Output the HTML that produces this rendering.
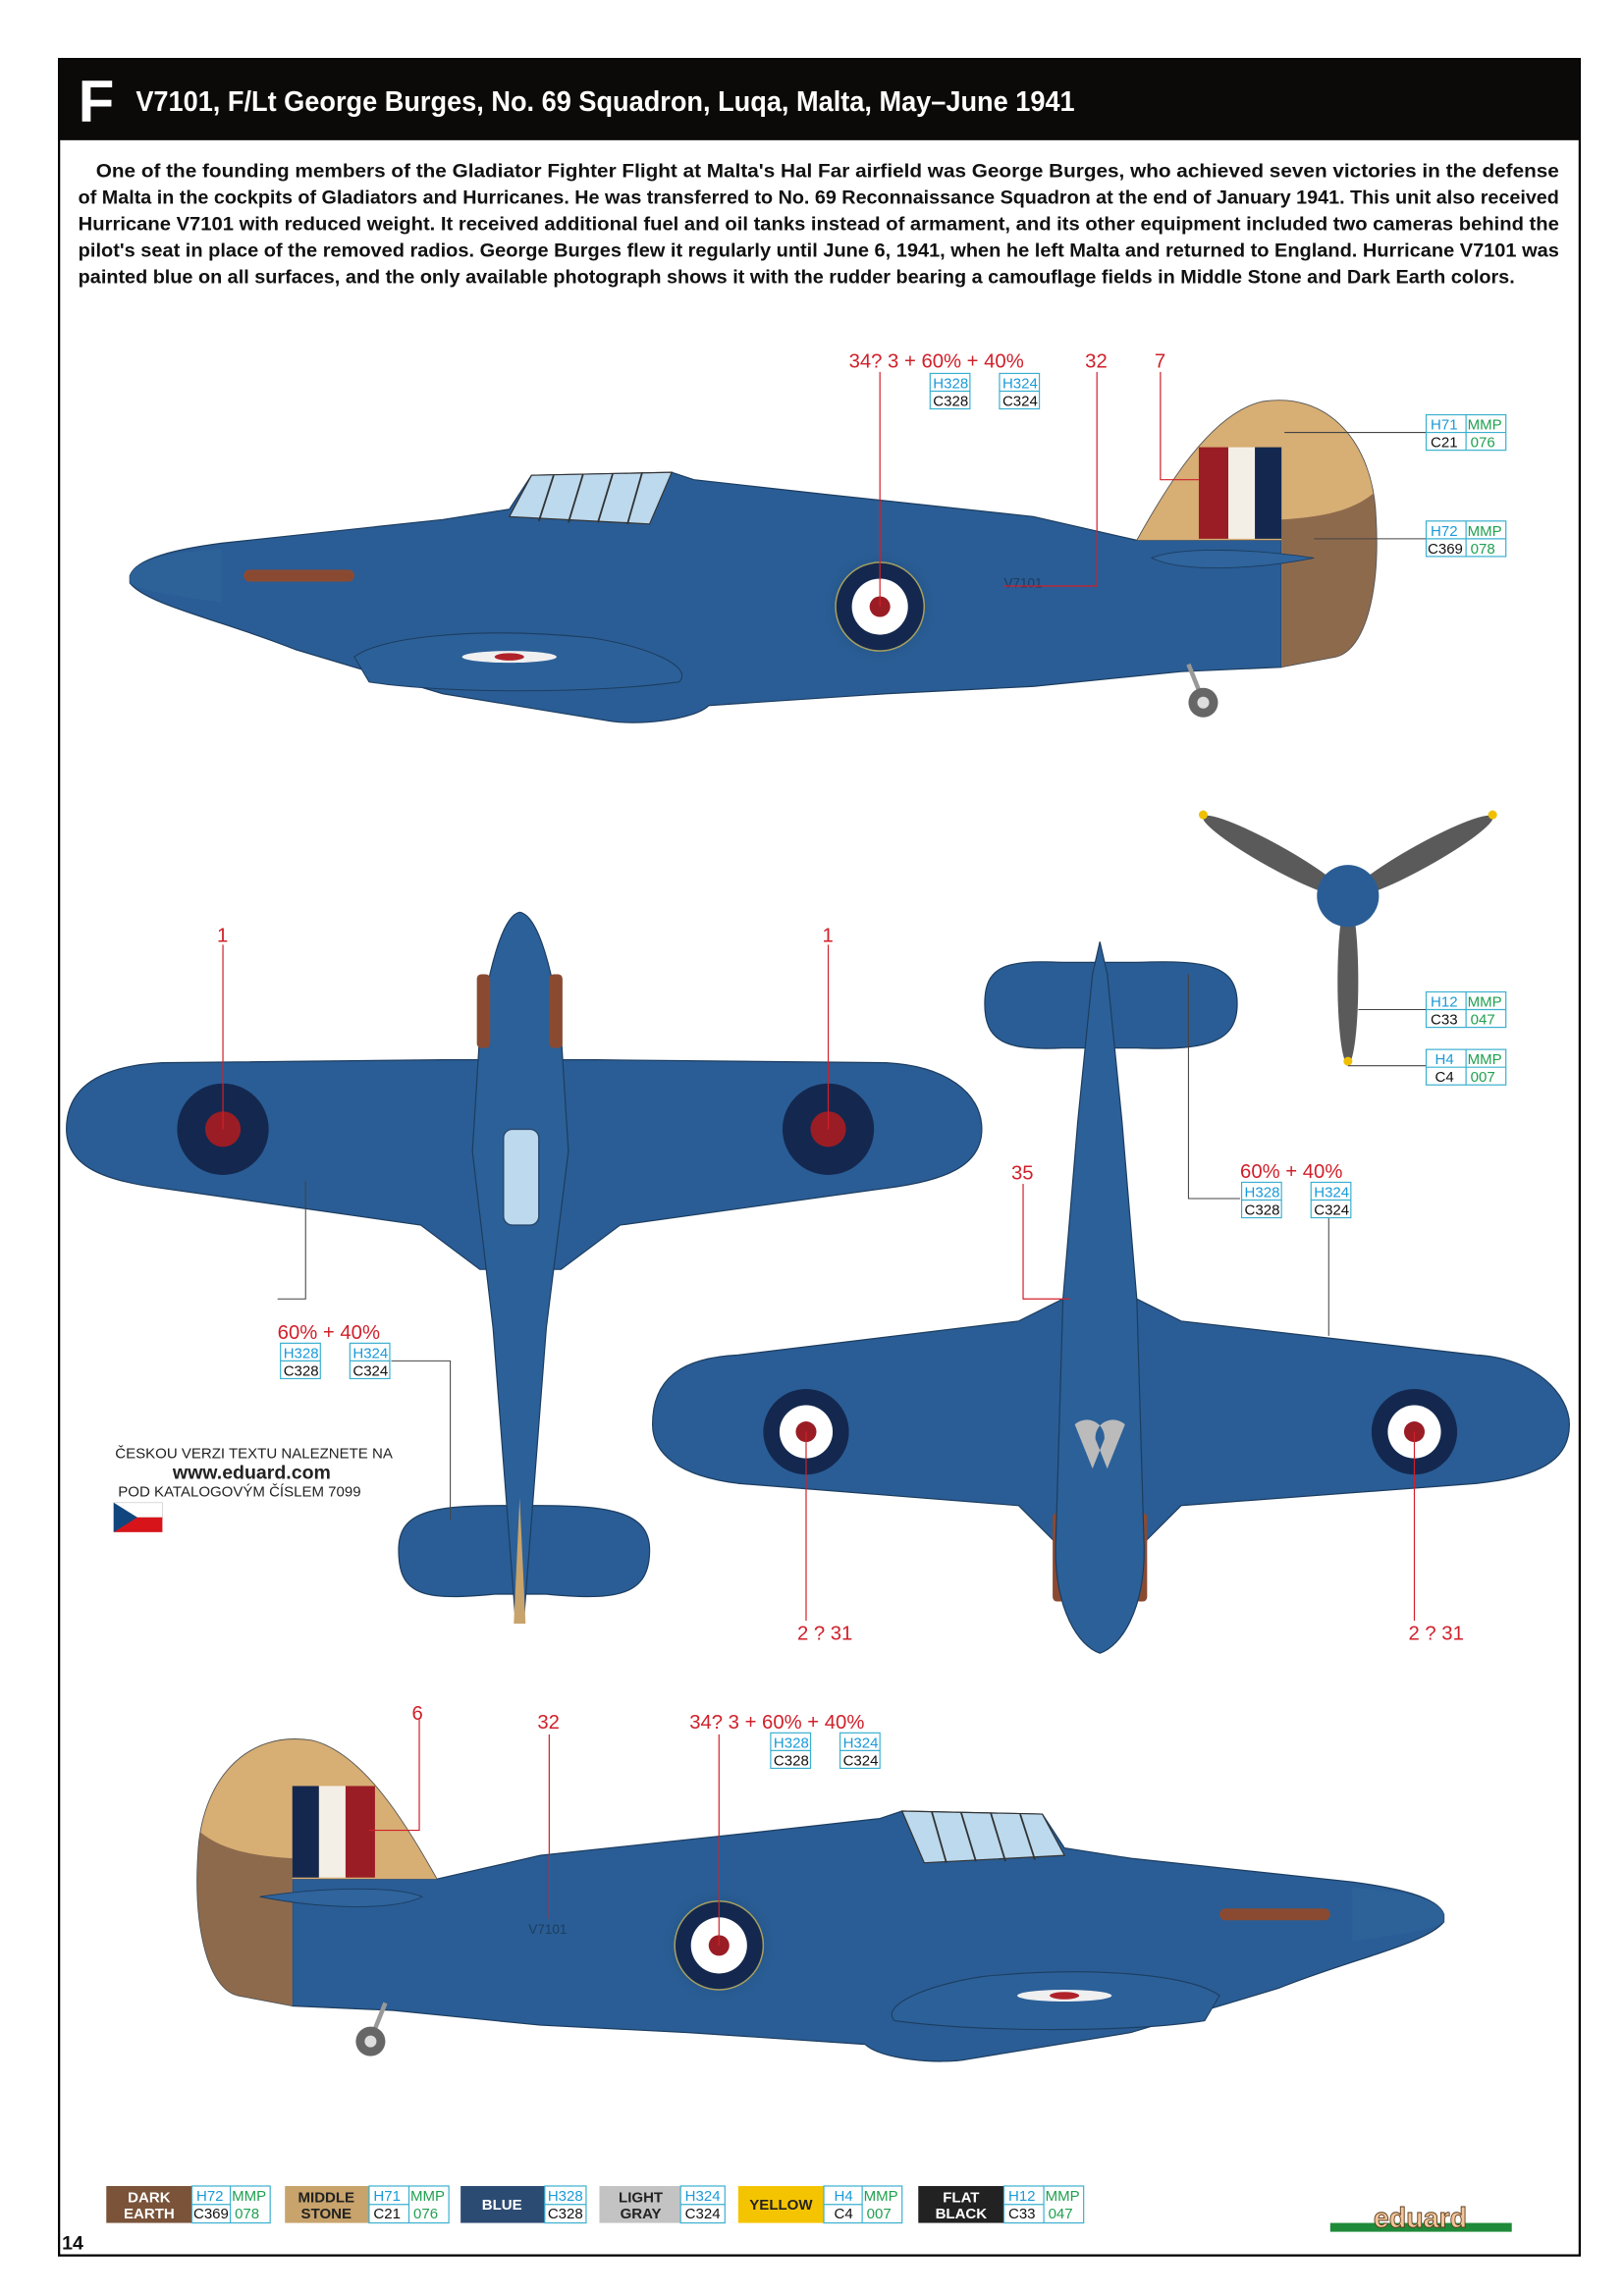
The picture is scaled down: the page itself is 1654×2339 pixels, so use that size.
<!DOCTYPE html>
<html><head><meta charset="utf-8"><style>html,body{margin:0;padding:0;background:#fff}svg{display:block}</style></head><body>
<svg width="1654" height="2339" viewBox="0 0 1100 1555.5" preserveAspectRatio="none" xmlns="http://www.w3.org/2000/svg" font-family="Liberation Sans, sans-serif">
<defs>
<radialGradient id="glow"><stop offset="0.6" stop-color="#1f4f80" stop-opacity="0.9"/><stop offset="1" stop-color="#2a5d95" stop-opacity="0"/></radialGradient>
<clipPath id="finclip"><path d="M770,366 C790,330 820,280 855,272 C900,265 930,300 932,350 C935,400 925,440 905,445 L868,452 L868,366 Z"/></clipPath>
<g id="side">
 <path d="M88,390 C92,378 120,372 150,368 L300,352 L345,345 L360,322 L455,320 L470,325 L560,335 L700,350 L770,366 L868,366 L868,452 L800,455 L700,465 L600,470 L480,478 C470,488 430,492 410,488 L300,470 L200,440 C150,420 100,410 88,395 Z" fill="#2a5d95" stroke="#1c3d60" stroke-width="0.8"/>
 <path d="M88,390 C92,378 120,374 150,372 L150,408 C120,404 95,400 88,395 Z" fill="#2d6299"/>
 <g clip-path="url(#finclip)">
  <rect x="760" y="260" width="180" height="200" fill="#d7ae74"/>
  <path d="M868,352 C900,350 920,345 935,330 L940,460 L868,460 Z" fill="#8e6a4d"/>
  <rect x="760" y="366" width="108" height="100" fill="#2a5d95"/>
 </g>
 <path d="M770,366 C790,330 820,280 855,272 C900,265 930,300 932,350 C935,400 925,440 905,445 L868,452" fill="none" stroke="#555" stroke-width="0.6"/>
 <rect x="812" y="303" width="20" height="62" fill="#9a1d25"/><rect x="832" y="303" width="18" height="62" fill="#f3efe6"/><rect x="850" y="303" width="18" height="62" fill="#14284f"/>
 <path d="M780,378 C800,370 850,372 890,378 C850,386 800,388 780,378 Z" fill="#2f649c" stroke="#1c3d60" stroke-width="0.6"/>
 <path d="M345,350 L360,322 L455,320 L440,355 Z" fill="#bcd9ee" stroke="#333" stroke-width="0.8"/>
 <path d="M375,322 L365,353 M395,321 L385,354 M415,321 L405,354 M435,320 L425,355" stroke="#333" stroke-width="1.2"/>
 <rect x="165" y="386" width="75" height="8" rx="4" fill="#8a4a32"/>
 <path d="M240,445 C260,430 330,425 400,432 C440,438 470,452 460,462 C400,470 300,470 250,462 Z" fill="#2c6098" stroke="#1c3d60" stroke-width="0.7"/>
 <ellipse cx="345" cy="445" rx="32" ry="4" fill="#f0f0f0"/><ellipse cx="345" cy="445" rx="10" ry="2.5" fill="#b0222a"/>
 <path d="M805,450 L815,475" stroke="#999" stroke-width="3"/><circle cx="815" cy="476" r="10" fill="#666"/><circle cx="815" cy="476" r="4" fill="#ddd"/>
</g>
<g id="roundel">
 <circle r="40" fill="url(#glow)"/>
 <circle r="30" fill="#14284f" stroke="#a6a060" stroke-width="1"/><circle r="19" fill="#fff"/><circle r="7" fill="#9a1d25"/>
</g>
</defs>

<rect x="40" y="40" width="1030" height="1488" fill="none" stroke="#000" stroke-width="1.5"/>
<rect x="40" y="40" width="1030" height="55" fill="#0c0a08"/>
<text x="53" y="82" font-size="40" font-weight="bold" fill="#fff">F</text>
<text x="92" y="75" font-size="19" font-weight="bold" fill="#fff" textLength="636" lengthAdjust="spacingAndGlyphs">V7101, F/Lt George Burges, No. 69 Squadron, Luqa, Malta, May–June 1941</text>
<g font-size="13" font-weight="bold" fill="#111">
<text x="65" y="120" textLength="991" lengthAdjust="spacingAndGlyphs">One of the founding members of the Gladiator Fighter Flight at Malta's Hal Far airfield was George Burges, who achieved seven victories in the defense</text>
<text x="53" y="138" textLength="1003" lengthAdjust="spacingAndGlyphs">of Malta in the cockpits of Gladiators and Hurricanes. He was transferred to No. 69 Reconnaissance Squadron at the end of January 1941. This unit also received</text>
<text x="53" y="156" textLength="1003" lengthAdjust="spacingAndGlyphs">Hurricane V7101 with reduced weight. It received additional fuel and oil tanks instead of armament, and its other equipment included two cameras behind the</text>
<text x="53" y="174" textLength="1003" lengthAdjust="spacingAndGlyphs">pilot's seat in place of the removed radios. George Burges flew it regularly until June 6, 1941, when he left Malta and returned to England. Hurricane V7101 was</text>
<text x="53" y="192" textLength="973" lengthAdjust="spacingAndGlyphs">painted blue on all surfaces, and the only available photograph shows it with the rudder bearing a camouflage fields in Middle Stone and Dark Earth colors.</text>
</g>

<use href="#side"/>
<use href="#roundel" transform="translate(596,411)"/>
<text x="680" y="398" font-size="9" fill="#1c3d60">V7101</text>
<use href="#side" transform="translate(1066,907) scale(-1,1)"/>
<use href="#roundel" transform="translate(487,1318)"/>
<text x="358" y="1310" font-size="9" fill="#1c3d60">V7101</text>

<!-- plan top view -->
<path d="M45,765 C45,735 70,722 110,720 L300,718 L404,718 L600,720 C640,722 665,740 665,765 C665,790 640,800 600,805 L420,830 L380,860 L325,860 L285,830 L110,805 C70,800 45,790 45,765 Z" fill="#2a5d95" stroke="#1c3d60" stroke-width="0.8"/>
<path d="M270,1050 C270,1025 290,1020 340,1020 L365,1020 C415,1020 440,1025 440,1050 C440,1080 420,1085 370,1080 L335,1080 C285,1085 270,1080 270,1050 Z" fill="#2a5d95" stroke="#1c3d60" stroke-width="0.8"/>
<path d="M352,618 C365,620 375,660 380,700 L385,780 L370,900 L360,1030 L355,1095 L349,1095 L344,1030 L334,900 L320,780 L325,700 C330,660 340,620 352,618 Z" fill="#2c6098" stroke="#1c3d60" stroke-width="0.8"/>
<path d="M352,1015 L356,1100 L348,1100 Z" fill="#c8a36b"/>
<g fill="#8a4a32"><rect x="323" y="660" width="9" height="50" rx="3"/><rect x="372" y="660" width="9" height="50" rx="3"/></g>
<rect x="341" y="765" width="24" height="65" rx="6" fill="#bcd9ee" stroke="#2a4a70" stroke-width="1"/>
<circle cx="151" cy="765" r="31" fill="#14284f"/><circle cx="151" cy="765" r="12" fill="#9a1d25"/>
<circle cx="561" cy="765" r="31" fill="#14284f"/><circle cx="561" cy="765" r="12" fill="#9a1d25"/>

<!-- bottom view -->
<path d="M667,680 C667,655 680,650 720,652 L770,652 C820,650 838,655 838,680 C838,705 820,712 770,710 L720,710 C680,712 667,705 667,680 Z" fill="#2a5d95" stroke="#1c3d60" stroke-width="0.8"/>
<path d="M442,965 C442,935 460,920 500,918 L690,895 L720,880 L770,880 L800,895 L1000,918 C1040,920 1063,945 1063,965 C1063,985 1050,1000 1000,1005 L800,1020 L770,1050 L720,1050 L690,1020 L500,1005 C460,1000 442,985 442,965 Z" fill="#2a5d95" stroke="#1c3d60" stroke-width="0.8"/>
<g fill="#8a4a32"><rect x="713" y="1025" width="8" height="60" rx="3"/><rect x="769" y="1025" width="8" height="60" rx="3"/></g>
<path d="M745,638 L750,660 L760,760 L770,880 L775,1050 C775,1090 760,1115 745,1120 C730,1115 715,1090 715,1050 L720,880 L730,760 L740,660 Z" fill="#2c6098" stroke="#1c3d60" stroke-width="0.8"/>
<path d="M728,965 a12,12 0 0 1 20,10 L740,995 Z M762,965 a12,12 0 0 0 -20,10 L750,995 Z" fill="#bbb"/>
<circle cx="546" cy="970" r="29" fill="#14284f"/><circle cx="546" cy="970" r="18" fill="#fff"/><circle cx="546" cy="970" r="7" fill="#9a1d25"/>
<circle cx="958" cy="970" r="29" fill="#14284f"/><circle cx="958" cy="970" r="18" fill="#fff"/><circle cx="958" cy="970" r="7" fill="#9a1d25"/>

<!-- propeller -->
<ellipse cx="863" cy="580" rx="55" ry="8" transform="rotate(29 863 580)" fill="#5a5a5a"/>
<ellipse cx="963" cy="580" rx="55" ry="8" transform="rotate(-29 963 580)" fill="#5a5a5a"/>
<ellipse cx="913" cy="665" rx="7" ry="56" fill="#5a5a5a"/>
<circle cx="815" cy="552" r="3" fill="#f0c000"/><circle cx="1011" cy="552" r="3" fill="#f0c000"/><circle cx="913" cy="719" r="3" fill="#f0c000"/>
<circle cx="913" cy="607" r="21" fill="#2a5d95"/>

<g stroke="#d0202a" stroke-width="0.8" fill="none">
<path d="M596,252 V411"/><path d="M743,252 V397 H680"/><path d="M786,252 V325 H812"/>
<path d="M151,640 V765"/><path d="M561,640 V765"/>
<path d="M693,802 V880 H725"/>
<path d="M546,970 V1098"/><path d="M958,970 V1098"/>
<path d="M284,1165 V1240 H250"/><path d="M372,1175 V1300"/><path d="M487,1175 V1318"/>
</g>
<g stroke="#444" stroke-width="0.7" fill="none">
<path d="M870,293 H966"/><path d="M890,365 H966"/>
<path d="M920,684 H966"/><path d="M913,722 H966"/>
<path d="M207,800 V880 H188"/><path d="M265,922 H305 V1030"/>
<path d="M805,660 V812 H840"/><path d="M900,823 V905"/>
</g>

<g fill="#d0202a" font-size="13.5">
<text x="575" y="249">34? 3 + 60% + 40%</text><text x="735" y="249">32</text><text x="782" y="249">7</text>
<text x="147" y="638">1</text><text x="557" y="638">1</text>
<text x="188" y="907">60% + 40%</text>
<text x="685" y="799">35</text><text x="840" y="798">60% + 40%</text>
<text x="540" y="1111">2 ? 31</text><text x="954" y="1111">2 ? 31</text>
<text x="279" y="1165">6</text><text x="364" y="1171">32</text><text x="467" y="1171">34? 3 + 60% + 40%</text>
</g>

<g font-size="10" stroke-width="0.8">
<g transform="translate(630,253)"><rect width="27" height="24" fill="#fff" stroke="#3ab0d0"/><line x1="0" y1="12" x2="27" y2="12" stroke="#3ab0d0"/><text x="2" y="10" fill="#1a9ad8" stroke="none">H328</text><text x="2" y="22" fill="#111" stroke="none">C328</text></g>
<g transform="translate(677,253)"><rect width="27" height="24" fill="#fff" stroke="#3ab0d0"/><line x1="0" y1="12" x2="27" y2="12" stroke="#3ab0d0"/><text x="2" y="10" fill="#1a9ad8" stroke="none">H324</text><text x="2" y="22" fill="#111" stroke="none">C324</text></g>
<g transform="translate(190,910)"><rect width="27" height="24" fill="#fff" stroke="#3ab0d0"/><line x1="0" y1="12" x2="27" y2="12" stroke="#3ab0d0"/><text x="2" y="10" fill="#1a9ad8" stroke="none">H328</text><text x="2" y="22" fill="#111" stroke="none">C328</text></g>
<g transform="translate(237,910)"><rect width="27" height="24" fill="#fff" stroke="#3ab0d0"/><line x1="0" y1="12" x2="27" y2="12" stroke="#3ab0d0"/><text x="2" y="10" fill="#1a9ad8" stroke="none">H324</text><text x="2" y="22" fill="#111" stroke="none">C324</text></g>
<g transform="translate(841,801)"><rect width="27" height="24" fill="#fff" stroke="#3ab0d0"/><line x1="0" y1="12" x2="27" y2="12" stroke="#3ab0d0"/><text x="2" y="10" fill="#1a9ad8" stroke="none">H328</text><text x="2" y="22" fill="#111" stroke="none">C328</text></g>
<g transform="translate(888,801)"><rect width="27" height="24" fill="#fff" stroke="#3ab0d0"/><line x1="0" y1="12" x2="27" y2="12" stroke="#3ab0d0"/><text x="2" y="10" fill="#1a9ad8" stroke="none">H324</text><text x="2" y="22" fill="#111" stroke="none">C324</text></g>
<g transform="translate(522,1174)"><rect width="27" height="24" fill="#fff" stroke="#3ab0d0"/><line x1="0" y1="12" x2="27" y2="12" stroke="#3ab0d0"/><text x="2" y="10" fill="#1a9ad8" stroke="none">H328</text><text x="2" y="22" fill="#111" stroke="none">C328</text></g>
<g transform="translate(569,1174)"><rect width="27" height="24" fill="#fff" stroke="#3ab0d0"/><line x1="0" y1="12" x2="27" y2="12" stroke="#3ab0d0"/><text x="2" y="10" fill="#1a9ad8" stroke="none">H324</text><text x="2" y="22" fill="#111" stroke="none">C324</text></g>
<g transform="translate(966,281)"><rect width="54" height="24" fill="#fff" stroke="#3ab0d0"/><line x1="0" y1="12" x2="54" y2="12" stroke="#3ab0d0"/><line x1="27" y1="0" x2="27" y2="24" stroke="#3ab0d0"/><text x="3" y="10" fill="#1a9ad8" stroke="none">H71</text><text x="28" y="10" fill="#20a050" stroke="none">MMP</text><text x="3" y="22" fill="#111" stroke="none">C21</text><text x="30" y="22" fill="#20a050" stroke="none">076</text></g>
<g transform="translate(966,353)"><rect width="54" height="24" fill="#fff" stroke="#3ab0d0"/><line x1="0" y1="12" x2="54" y2="12" stroke="#3ab0d0"/><line x1="27" y1="0" x2="27" y2="24" stroke="#3ab0d0"/><text x="3" y="10" fill="#1a9ad8" stroke="none">H72</text><text x="28" y="10" fill="#20a050" stroke="none">MMP</text><text x="1" y="22" fill="#111" stroke="none">C369</text><text x="30" y="22" fill="#20a050" stroke="none">078</text></g>
<g transform="translate(966,672)"><rect width="54" height="24" fill="#fff" stroke="#3ab0d0"/><line x1="0" y1="12" x2="54" y2="12" stroke="#3ab0d0"/><line x1="27" y1="0" x2="27" y2="24" stroke="#3ab0d0"/><text x="3" y="10" fill="#1a9ad8" stroke="none">H12</text><text x="28" y="10" fill="#20a050" stroke="none">MMP</text><text x="3" y="22" fill="#111" stroke="none">C33</text><text x="30" y="22" fill="#20a050" stroke="none">047</text></g>
<g transform="translate(966,711)"><rect width="54" height="24" fill="#fff" stroke="#3ab0d0"/><line x1="0" y1="12" x2="54" y2="12" stroke="#3ab0d0"/><line x1="27" y1="0" x2="27" y2="24" stroke="#3ab0d0"/><text x="6" y="10" fill="#1a9ad8" stroke="none">H4</text><text x="28" y="10" fill="#20a050" stroke="none">MMP</text><text x="6" y="22" fill="#111" stroke="none">C4</text><text x="30" y="22" fill="#20a050" stroke="none">007</text></g>
</g>

<g fill="#222">
<text x="78" y="988" font-size="10">ČESKOU VERZI TEXTU NALEZNETE NA</text>
<text x="117" y="1002" font-size="13" font-weight="bold">www.eduard.com</text>
<text x="80" y="1014" font-size="10">POD KATALOGOVÝM ČÍSLEM 7099</text>
</g>
<rect x="77" y="1018" width="33" height="10" fill="#fff" stroke="#ccc" stroke-width="0.5"/><rect x="77" y="1028" width="33" height="10" fill="#d7141a"/><path d="M77,1018 L93,1028 L77,1038 Z" fill="#11457e"/>

<g font-size="10" font-weight="bold" text-anchor="middle">
<rect x="72" y="1481" width="58" height="25" fill="#7a5339"/><text x="101" y="1492" fill="#fff">DARK</text><text x="101" y="1503" fill="#fff">EARTH</text>
<rect x="193" y="1481" width="57" height="25" fill="#c8a36b"/><text x="221" y="1492" fill="#222">MIDDLE</text><text x="221" y="1503" fill="#222">STONE</text>
<rect x="312" y="1481" width="57" height="25" fill="#2c4b73"/><text x="340" y="1497" fill="#fff">BLUE</text>
<rect x="406" y="1481" width="55" height="25" fill="#c3c3c3"/><text x="434" y="1492" fill="#222">LIGHT</text><text x="434" y="1503" fill="#222">GRAY</text>
<rect x="500" y="1481" width="58" height="25" fill="#f5c400"/><text x="529" y="1497" fill="#222">YELLOW</text>
<rect x="622" y="1481" width="58" height="25" fill="#222"/><text x="651" y="1492" fill="#fff">FLAT</text><text x="651" y="1503" fill="#fff">BLACK</text>
</g>
<g font-size="10" stroke-width="0.8">
<g transform="translate(130,1481)"><rect width="53" height="25" fill="#fff" stroke="#3ab0d0"/><line x1="0" y1="12.5" x2="26" y2="12.5" stroke="#3ab0d0"/><line x1="26" y1="0" x2="26" y2="25" stroke="#3ab0d0"/><text x="3" y="10" fill="#1a9ad8" stroke="none">H72</text><text x="27" y="10" fill="#20a050" stroke="none">MMP</text><text x="1" y="22" fill="#111" stroke="none">C369</text><text x="29" y="22" fill="#20a050" stroke="none">078</text></g>
<g transform="translate(250,1481)"><rect width="54" height="25" fill="#fff" stroke="#3ab0d0"/><line x1="0" y1="12.5" x2="27" y2="12.5" stroke="#3ab0d0"/><line x1="27" y1="0" x2="27" y2="25" stroke="#3ab0d0"/><text x="3" y="10" fill="#1a9ad8" stroke="none">H71</text><text x="28" y="10" fill="#20a050" stroke="none">MMP</text><text x="3" y="22" fill="#111" stroke="none">C21</text><text x="30" y="22" fill="#20a050" stroke="none">076</text></g>
<g transform="translate(369,1481)"><rect width="28" height="25" fill="#fff" stroke="#3ab0d0"/><line x1="0" y1="12.5" x2="28" y2="12.5" stroke="#3ab0d0"/><text x="2" y="10" fill="#1a9ad8" stroke="none">H328</text><text x="2" y="22" fill="#111" stroke="none">C328</text></g>
<g transform="translate(461,1481)"><rect width="30" height="25" fill="#fff" stroke="#3ab0d0"/><line x1="0" y1="12.5" x2="30" y2="12.5" stroke="#3ab0d0"/><text x="3" y="10" fill="#1a9ad8" stroke="none">H324</text><text x="3" y="22" fill="#111" stroke="none">C324</text></g>
<g transform="translate(558,1481)"><rect width="53" height="25" fill="#fff" stroke="#3ab0d0"/><line x1="0" y1="12.5" x2="26" y2="12.5" stroke="#3ab0d0"/><line x1="26" y1="0" x2="26" y2="25" stroke="#3ab0d0"/><text x="7" y="10" fill="#1a9ad8" stroke="none">H4</text><text x="27" y="10" fill="#20a050" stroke="none">MMP</text><text x="7" y="22" fill="#111" stroke="none">C4</text><text x="29" y="22" fill="#20a050" stroke="none">007</text></g>
<g transform="translate(680,1481)"><rect width="54" height="25" fill="#fff" stroke="#3ab0d0"/><line x1="0" y1="12.5" x2="27" y2="12.5" stroke="#3ab0d0"/><line x1="27" y1="0" x2="27" y2="25" stroke="#3ab0d0"/><text x="3" y="10" fill="#1a9ad8" stroke="none">H12</text><text x="28" y="10" fill="#20a050" stroke="none">MMP</text><text x="3" y="22" fill="#111" stroke="none">C33</text><text x="30" y="22" fill="#20a050" stroke="none">047</text></g>
</g>
<rect x="901" y="1506" width="123" height="6" fill="#1f8a3a"/>
<text x="962" y="1509" font-size="19" font-weight="bold" text-anchor="middle" fill="#f3c59a" stroke="#5a3a1a" stroke-width="0.6">eduard</text>
<text x="42" y="1524" font-size="13" font-weight="bold" fill="#111">14</text>
</svg>
</body></html>
